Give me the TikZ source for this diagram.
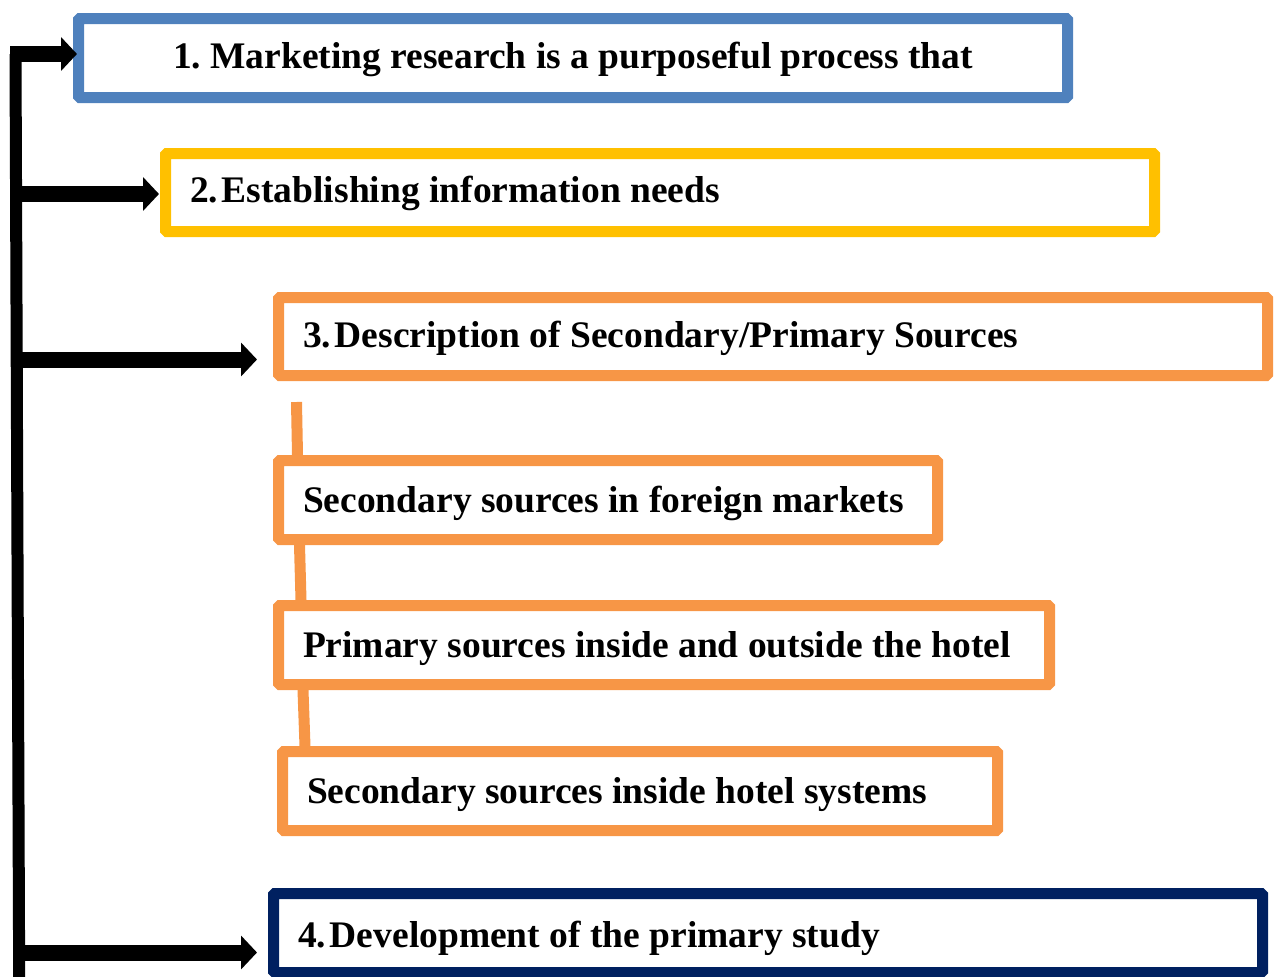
\documentclass[tikz,border=0pt]{standalone}
\usepackage{fontspec}
\setmainfont{Liberation Serif}
\usetikzlibrary{arrows.meta}
\definecolor{boxblue}{HTML}{4F81BD}
\definecolor{boxyellow}{HTML}{FFC000}
\definecolor{boxorange}{HTML}{F79646}
\definecolor{boxnavy}{HTML}{002060}
\newcommand{\boxfont}{\fontsize{37.5}{40}\selectfont\bfseries\frenchspacing}
\begin{document}
\begin{tikzpicture}[x=1pt,y=-1pt,
  box/.style={draw=#1, line width=11pt, rounded corners=1.5pt, outer sep=5.5pt,
    inner xsep=24.5pt, inner ysep=0pt, anchor=north west, font=\boxfont,
    text height=25pt, text depth=0pt, align=flush left},
  arr/.style={line width=16pt, -{Triangle[width=33pt,length=16pt]}},
  spine/.style={line width=12pt},
  link/.style={draw=boxorange, line width=11pt}]
\useasboundingbox (0,0) rectangle (1275,977);
\clip (0,0) rectangle (1275,977);

% step boxes
\node[box=boxblue, minimum width=989pt, minimum height=79pt, text width=940pt,
  align=flush center, text height=20pt]
  (b1) at (73,13) {1. Marketing research is a purposeful process that};
\node[box=boxyellow, minimum width=989pt, minimum height=78pt, text width=940pt, text height=19pt]
  (b2) at (160,148) {2.\hspace{0.1em}Establishing information needs};
\node[box=boxorange, minimum width=989pt, minimum height=78pt, text width=940pt, text height=21pt]
  (b3) at (273,292) {3.\hspace{0.1em}Description of Secondary/Primary Sources};
\node[box=boxorange, minimum width=659pt, minimum height=79pt, text width=610pt]
  (bA) at (273,455) {Secondary sources in foreign markets};
\node[box=boxorange, minimum width=771pt, minimum height=79pt, text width=722pt, text height=24pt]
  (bB) at (273,600) {Primary sources inside and outside the hotel};
\node[box=boxorange, minimum width=715pt, minimum height=79pt, text width=666pt, text height=24pt]
  (bC) at (277,746) {Secondary sources inside hotel systems};
\node[box=boxnavy, minimum width=989pt, minimum height=79pt, text width=940pt, text height=29pt]
  (b4) at (268,888) {4.\hspace{0.1em}Development of the primary study};

% orange links between the source boxes
\coordinate (c0) at (296.5,402);
\draw[link] (c0) -- ([xshift=24.5pt]bA.north west);
\draw[link] ([xshift=26.5pt]bA.south west) -- ([xshift=28pt]bB.north west);
\draw[link] ([xshift=30pt]bB.south west) -- ([xshift=28pt]bC.north west);

% black spine with arrows to the main steps
\coordinate (s1) at (10,54);
\coordinate (s2) at (16,194);
\coordinate (s3) at (16.5,359.5);
\coordinate (s4) at (19,952.5);
\coordinate (sb) at (19.2,980);
\draw[spine] (15.5,54) -- (sb);
\draw[arr, shorten >=-4pt] (s1) -- (s1 -| b1.west);
\draw[arr, shorten >=1pt] (s2) -- (s2 -| b2.west);
\draw[arr, shorten >=16pt] (s3) -- (s3 -| b3.west);
\draw[arr, shorten >=11pt] (s4) -- (s4 -| b4.west);
\end{tikzpicture}
\end{document}
